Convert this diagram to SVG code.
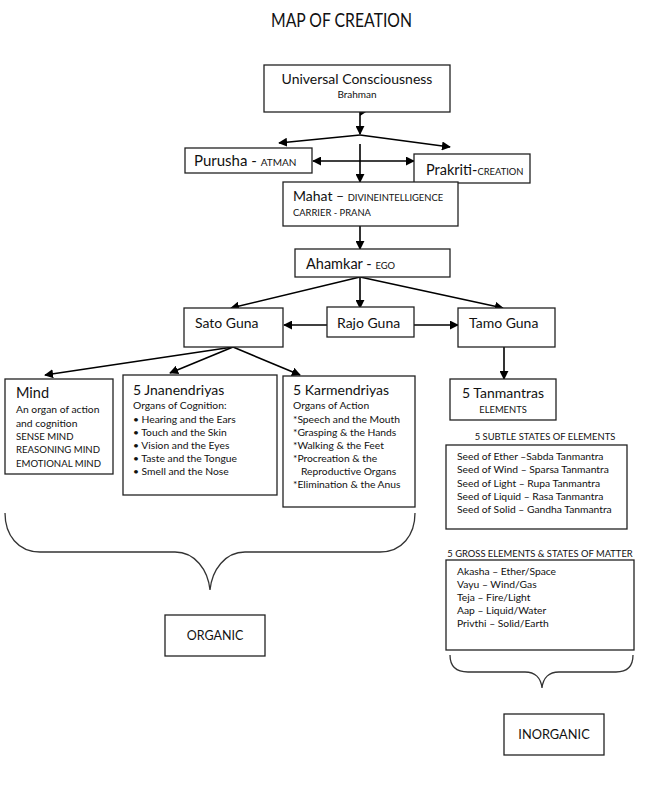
<svg xmlns="http://www.w3.org/2000/svg" width="650" height="794" viewBox="0 0 650 794">
<defs>
<marker id="ah" viewBox="0 0 10 10" refX="9" refY="5" markerWidth="9" markerHeight="9" markerUnits="userSpaceOnUse" orient="auto-start-reverse">
<path d="M0,0 L10,5 L0,10 z" fill="#000"/>
</marker>
<style>
text{font-family:Lato,"Open Sans","Liberation Sans",sans-serif;fill:#111}
.box{fill:#fff;stroke:#222;stroke-width:1.3}
.c{stroke:#000;stroke-width:1.6;fill:none}
.b{stroke:#333;stroke-width:1.3;fill:none}
.h{font-size:14px}
.g{font-size:14px}
.s{font-size:10.3px}
.u{font-size:9.6px}
.t{font-size:9.4px}
.m{text-anchor:middle}
</style>
</defs>
<rect width="650" height="794" fill="#fff"/>
<text x="271" y="27" style="font-size:19px" textLength="141" lengthAdjust="spacingAndGlyphs">MAP OF CREATION</text>

<g id="connectors">
<path class="c" d="M360,112 V134" marker-end="url(#ah)"/>
<polygon points="360,108 366,112 360,116" fill="#000"/>
<path class="c" d="M360,135 L279,143" marker-end="url(#ah)"/>
<path class="c" d="M360,135 L450,147" marker-end="url(#ah)"/>
<path class="c" d="M360,144 V182" marker-end="url(#ah)"/>
<path class="c" d="M313,161 H414" marker-start="url(#ah)" marker-end="url(#ah)"/>
<path class="c" d="M360,226 V249" marker-end="url(#ah)"/>
<path class="c" d="M360,277 L231,308" marker-end="url(#ah)"/>
<path class="c" d="M360,277 V308" marker-end="url(#ah)"/>
<path class="c" d="M360,277 L503,308" marker-end="url(#ah)"/>
<path class="c" d="M327,325 H284" marker-end="url(#ah)"/>
<path class="c" d="M414,325 H458" marker-end="url(#ah)"/>
<path class="c" d="M233,347 L45,375" marker-end="url(#ah)"/>
<path class="c" d="M233,347 L170,373" marker-end="url(#ah)"/>
<path class="c" d="M233,347 L300,375" marker-end="url(#ah)"/>
<path class="c" d="M504,347 V379" marker-end="url(#ah)"/>
<path class="b" d="M5,513 C5,535 18,552 40,552 H175 C195,552 208,570 210,590 C212,570 225,552 245,552 H380 C402,552 415,535 415,513"/>
<path class="b" d="M450,655 C450,666 456,672 468,672 H525 C535,672 541,678 542,688 C543,678 549,672 559,672 H616 C628,672 633,666 633,655"/>
</g>

<g id="universal">
<rect class="box" x="264" y="65" width="186" height="47"/>
<text x="357" y="84" class="m" style="font-size:14px">Universal Consciousness</text>
<text x="357" y="98" class="m" style="font-size:10px">Brahman</text>
</g>
<g id="purusha">
<rect class="box" x="185" y="148" width="127" height="25"/>
<text x="194" y="166"><tspan style="font-size:15px">Purusha - </tspan><tspan style="font-size:10px">ATMAN</tspan></text>
</g>
<g id="prakriti">
<rect class="box" x="414" y="154" width="116" height="29"/>
<text x="426" y="175"><tspan style="font-size:14.5px">Prakriti-</tspan><tspan class="t">CREATION</tspan></text>
</g>
<g id="mahat">
<rect class="box" x="283" y="182" width="175" height="44"/>
<text x="293" y="201"><tspan class="h">Mahat – </tspan><tspan class="t">DIVINEINTELLIGENCE</tspan></text>
<text x="293" y="216" class="t">CARRIER - PRANA</text>
</g>
<g id="ahamkar">
<rect class="box" x="295" y="249" width="155" height="28"/>
<text x="306" y="269"><tspan style="font-size:14.5px">Ahamkar -  </tspan><tspan class="t">EGO</tspan></text>
</g>
<g id="sato">
<rect class="box" x="184" y="308" width="99" height="39"/>
<text x="195" y="328" class="g">Sato Guna</text>
</g>
<g id="rajo">
<rect class="box" x="327" y="307" width="87" height="30"/>
<text x="337" y="328" class="g">Rajo Guna</text>
</g>
<g id="tamo">
<rect class="box" x="458" y="308" width="97" height="39"/>
<text x="469" y="328" class="g">Tamo Guna</text>
</g>
<g id="mind">
<rect class="box" x="5" y="379" width="108" height="95"/>
<text x="16" y="398" style="font-size:14.5px">Mind</text>
<text x="16" y="413" class="s">An organ of action</text>
<text x="16" y="427" class="s">and cognition</text>
<text x="16" y="440" class="u">SENSE MIND</text>
<text x="16" y="453" class="u">REASONING MIND</text>
<text x="16" y="467" class="u">EMOTIONAL MIND</text>
</g>
<g id="jnanendriyas">
<rect class="box" x="123" y="375" width="154" height="120"/>
<text x="133" y="395" style="font-size:14px">5 Jnanendriyas</text>
<text x="133" y="409" class="s">Organs of Cognition:</text>
<text x="133" y="423" class="s">• Hearing and the Ears</text>
<text x="133" y="436" class="s">• Touch and the Skin</text>
<text x="133" y="449" class="s">• Vision  and the Eyes</text>
<text x="133" y="462" class="s">• Taste  and the Tongue</text>
<text x="133" y="475" class="s">• Smell and the Nose</text>
</g>
<g id="karmendriyas">
<rect class="box" x="283" y="376" width="132" height="131"/>
<text x="293" y="395" style="font-size:14px">5 Karmendriyas</text>
<text x="293" y="409" class="s">Organs of Action</text>
<text x="293" y="423" class="s">*Speech and the Mouth</text>
<text x="293" y="436" class="s">*Grasping &amp; the Hands</text>
<text x="293" y="449" class="s">*Walking  &amp; the Feet</text>
<text x="293" y="462" class="s">*Procreation  &amp; the</text>
<text x="301" y="475" class="s">Reproductive Organs</text>
<text x="293" y="488" class="s">*Elimination &amp; the Anus</text>
</g>
<g id="tanmantras">
<rect class="box" x="450" y="379" width="106" height="41"/>
<text x="503" y="398" class="m" style="font-size:14px">5 Tanmantras</text>
<text x="503" y="413" class="m t">ELEMENTS</text>
</g>
<g id="subtle">
<text x="545" y="440" class="m t">5 SUBTLE STATES OF ELEMENTS</text>
<rect class="box" x="446" y="445" width="181" height="84"/>
<text x="457" y="460" class="s">Seed of Ether –Sabda Tanmantra</text>
<text x="457" y="473" class="s">Seed of Wind – Sparsa Tanmantra</text>
<text x="457" y="487" class="s">Seed of Light – Rupa Tanmantra</text>
<text x="457" y="500" class="s">Seed of Liquid – Rasa Tanmantra</text>
<text x="457" y="513" class="s">Seed of Solid – Gandha Tanmantra</text>
</g>
<g id="gross">
<text x="540" y="557" class="m t">5 GROSS ELEMENTS &amp; STATES OF MATTER</text>
<rect class="box" x="446" y="560" width="188" height="90"/>
<text x="457" y="575" class="s">Akasha – Ether/Space</text>
<text x="457" y="588" class="s">Vayu – Wind/Gas</text>
<text x="457" y="601" class="s">Teja – Fire/Light</text>
<text x="457" y="614" class="s">Aap – Liquid/Water</text>
<text x="457" y="627" class="s">Privthi – Solid/Earth</text>
</g>
<g id="organic">
<rect class="box" x="165" y="615" width="100" height="41"/>
<text x="215" y="640" class="m" style="font-size:12.5px">ORGANIC</text>
</g>
<g id="inorganic">
<rect class="box" x="504" y="714" width="100" height="41"/>
<text x="554" y="739" class="m" style="font-size:12.8px">INORGANIC</text>
</g>
</svg>
